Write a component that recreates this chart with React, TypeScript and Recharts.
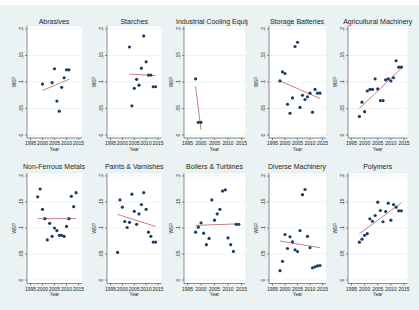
import React from "react";
import { ScatterChart, Scatter, XAxis, YAxis, CartesianGrid, ReferenceLine } from "recharts";

// ---------- data ----------
const yearTicks = [1995, 2000, 2005, 2010, 2015];
const wspTicks = [0, 0.05, 0.1, 0.15, 0.2];

const abrasivesYears = [2000, 2004, 2005, 2006, 2007, 2008, 2009, 2010, 2011];
const abrasivesWsp = [0.096, 0.099, 0.125, 0.064, 0.045, 0.09, 0.108, 0.123, 0.123];
const abrasivesFit = [0.084, 0.105];

const starchesYears = [2003, 2004, 2005, 2006, 2007, 2008, 2009, 2010, 2011, 2012, 2013, 2014];
const starchesWsp = [0.166, 0.055, 0.088, 0.105, 0.094, 0.126, 0.187, 0.138, 0.113, 0.113, 0.091, 0.091];
const starchesFit = [0.115, 0.112];

const coolingYears = [1998, 1999, 2000];
const coolingWsp = [0.106, 0.024, 0.024];
const coolingFit = [0.092, 0.01];

const fullYears = [1998, 1999, 2000, 2001, 2002, 2003, 2004, 2005, 2006, 2007, 2008, 2009, 2010, 2011, 2012, 2013, 2014];

const batteriesWsp = [0.102, 0.119, 0.116, 0.058, 0.041, 0.07, 0.167, 0.175, 0.052, 0.075, 0.067, 0.072, 0.079, 0.043, 0.086, 0.079, 0.079];
const batteriesFit = [0.102, 0.069];

const agriculturalWsp = [0.035, 0.062, 0.044, 0.083, 0.086, 0.086, 0.106, 0.087, 0.065, 0.065, 0.104, 0.106, 0.102, 0.108, 0.14, 0.128, 0.128];
const agriculturalFit = [0.05, 0.126];

const nonFerrousWsp = [0.16, 0.175, 0.136, 0.118, 0.077, 0.109, 0.084, 0.1, 0.095, 0.086, 0.086, 0.084, 0.103, 0.118, 0.161, 0.141, 0.168];
const nonFerrousFit = [0.118, 0.118];

const paintsWsp = [0.053, 0.154, 0.14, 0.1125, 0.101, 0.111, 0.165, 0.132, 0.107, 0.127, 0.145, 0.168, 0.136, 0.092, 0.084, 0.073, 0.073];
const paintsFit = [0.126, 0.103];

const boilersWsp = [0.092, 0.1015, 0.11, 0.09, 0.068, 0.08, 0.154, 0.115, 0.127, 0.136, 0.171, 0.1735, 0.081, 0.068, 0.055, 0.107, 0.107];
const boilersFit = [0.105, 0.108];

const diverseWsp = [0.018, 0.036, 0.0875, 0.0606, 0.083, 0.0735, 0.058, 0.0548, 0.095, 0.164, 0.174, 0.084, 0.062, 0.0235, 0.0254, 0.027, 0.0279];
const diverseFit = [0.075, 0.062];

const polymersWsp = [0.0727, 0.0785, 0.086, 0.089, 0.1177, 0.113, 0.124, 0.1497, 0.1337, 0.112, 0.1317, 0.1477, 0.115, 0.145, 0.14, 0.133, 0.133];
const polymersFit = [0.089, 0.1485];

const panelTitles = [
  "Abrasives", "Starches", "Industrial Cooling Equip", "Storage Batteries", "Agricultural Machinery",
  "Non-Ferrous Metals", "Paints & Varnishes", "Boilers & Turbines", "Diverse Machinery", "Polymers",
];

// ---------- layout ----------
const COLS = [
  { left: 26.5, right: 81.5 },
  { left: 107, right: 161.5 },
  { left: 184, right: 245 },
  { left: 268.5, right: 325.5 },
  { left: 348, right: 407.5 },
];
const ROWS = [
  { top: 26, bottom: 138, titleY: 22, padTop: 3, padBottom: 3 },
  { top: 172.5, bottom: 283, titleY: 167, padTop: 3, padBottom: 3.5 },
];

const FONT = '"Liberation Sans", Arial, Helvetica, sans-serif';
const DOT = "#1a3f66";
const FIT = "#a84a52";
const AXIS = "#444";

const fmtY = (v: number) => (v === 0 ? "0" : String(v).replace(/^0/, ""));

const YTick = (props: any) => {
  const { x, y, payload } = props;
  return (
    <text x={x} y={y} transform={`rotate(-90 ${x} ${y})`} textAnchor="middle" fontSize={5} fill="#222" fontFamily={FONT}>
      {fmtY(payload.value)}
    </text>
  );
};

const XTick = (props: any) => {
  const { x, y, payload } = props;
  return (
    <text x={x} y={y} dy="0.71em" textAnchor="middle" fontSize={5} fill="#222" fontFamily={FONT}>
      {payload.value}
    </text>
  );
};

const YTitle = (props: any) => {
  const vb = props.viewBox || { x: 0, y: 0, width: 24, height: 100 };
  const x = vb.x + vb.width - 11.4;
  const y = vb.y + vb.height / 2;
  return (
    <text x={x} y={y} transform={`rotate(-90 ${x} ${y})`} textAnchor="middle" fontSize={4.7} fill="#222" fontFamily={FONT}>
      WSP
    </text>
  );
};

const XTitle = (props: any) => {
  const vb = props.viewBox || { x: 0, y: 0, width: 50, height: 20 };
  return (
    <text x={vb.x + vb.width / 2} y={vb.y + 12.5} textAnchor="middle" fontSize={4.6} fill="#222" fontFamily={FONT}>
      Year
    </text>
  );
};

const Dot = (props: any) => {
  const { cx, cy } = props;
  return <circle cx={cx} cy={cy} r={1.6} fill={DOT} />;
};

type PanelProps = {
  idx: number;
  years: number[];
  wsp: number[];
  fit: number[];
};

const Panel = ({ idx, years, wsp, fit }: PanelProps) => {
  const col = COLS[idx % 5];
  const row = ROWS[Math.floor(idx / 5)];
  const yAxisW = 24;
  const mTop = 6;
  const xAxisH = 20;
  const plotW = col.right - col.left;
  const plotH = row.bottom - row.top;
  const width = plotW + yAxisW + 4;
  const height = plotH + mTop + xAxisH;
  const points = years.map((year, i) => ({ year, v: wsp[i] }));
  const fitStart = years[0];
  const fitEnd = years[years.length - 1];
  const title = panelTitles[idx];
  const center = (col.left + col.right) / 2;
  const isCooling = idx === 2;
  return (
    <>
      <div
        style={{
          position: "absolute",
          left: isCooling ? 176 : center - 40,
          width: isCooling ? 72 : 80,
          top: row.titleY - 5,
          height: 10,
          lineHeight: "10px",
          fontSize: 7,
          fontFamily: FONT,
          color: "#1e1e1e",
          textAlign: isCooling ? "left" : "center",
          whiteSpace: "nowrap",
          overflow: "hidden",
        }}
      >
        {title}
      </div>
      <div style={{ position: "absolute", left: col.left - yAxisW, top: row.top - mTop }}>
        <ScatterChart width={width} height={height} margin={{ top: mTop, right: 4, left: 0, bottom: 0 }}>
          <CartesianGrid vertical={false} fill="#ffffff" stroke="#e3ebed" strokeWidth={0.6} />
          <XAxis
            type="number"
            dataKey="year"
            domain={[1995, 2015]}
            ticks={yearTicks}
            interval={0}
            padding={{ left: 3.5, right: 3.5 }}
            height={xAxisH}
            tickSize={2}
            tickMargin={1.5}
            tick={<XTick />}
            axisLine={{ stroke: AXIS, strokeWidth: 0.6 }}
            tickLine={{ stroke: AXIS, strokeWidth: 0.6 }}
            label={<XTitle />}
            allowDataOverflow
          />
          <YAxis
            type="number"
            dataKey="v"
            domain={[0, 0.2]}
            ticks={wspTicks}
            interval={0}
            padding={{ top: row.padTop, bottom: row.padBottom }}
            width={yAxisW}
            tickSize={2}
            tickMargin={2.5}
            tick={<YTick />}
            axisLine={{ stroke: AXIS, strokeWidth: 0.6 }}
            tickLine={{ stroke: AXIS, strokeWidth: 0.6 }}
            label={<YTitle />}
            allowDataOverflow
          />
          <ReferenceLine
            segment={[
              { x: fitStart, y: fit[0] },
              { x: fitEnd, y: fit[1] },
            ]}
            stroke={FIT}
            strokeWidth={0.7}
            ifOverflow="visible"
          />
          <Scatter data={points} shape={<Dot />} isAnimationActive={false} />
        </ScatterChart>
      </div>
    </>
  );
}

export default function App() {
  return (
    <div
      style={{
        position: "absolute",
        left: 0,
        top: 0,
        width: 419,
        height: 310,
        background: "#ffffff",
        overflow: "hidden",
      }}
    >
      <div style={{ position: "absolute", left: 0, top: 5, width: 419, height: 305, background: "#eaf2f3" }} />
      <Panel idx={0} years={abrasivesYears} wsp={abrasivesWsp} fit={abrasivesFit} />
      <Panel idx={1} years={starchesYears} wsp={starchesWsp} fit={starchesFit} />
      <Panel idx={2} years={coolingYears} wsp={coolingWsp} fit={coolingFit} />
      <Panel idx={3} years={fullYears} wsp={batteriesWsp} fit={batteriesFit} />
      <Panel idx={4} years={fullYears} wsp={agriculturalWsp} fit={agriculturalFit} />
      <Panel idx={5} years={fullYears} wsp={nonFerrousWsp} fit={nonFerrousFit} />
      <Panel idx={6} years={fullYears} wsp={paintsWsp} fit={paintsFit} />
      <Panel idx={7} years={fullYears} wsp={boilersWsp} fit={boilersFit} />
      <Panel idx={8} years={fullYears} wsp={diverseWsp} fit={diverseFit} />
      <Panel idx={9} years={fullYears} wsp={polymersWsp} fit={polymersFit} />
    </div>
  );
}
